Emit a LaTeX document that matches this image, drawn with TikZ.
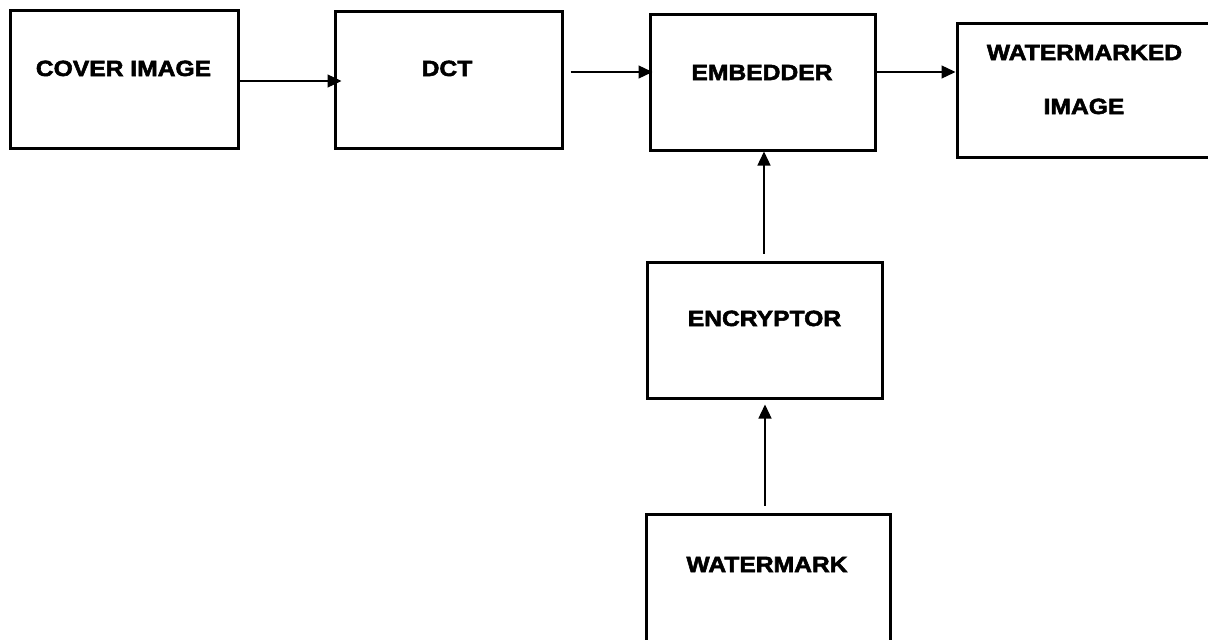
\documentclass[tikz,border=0pt]{standalone}
\usepackage{fontspec}
\newfontfamily\lblfont{Liberation Sans Bold}[FakeStretch=1.12,FakeBold=2.5]
\usetikzlibrary{arrows.meta,calc}
\tikzset{
  blk/.style={draw=black,line width=3pt,rectangle,inner sep=0pt},
  lbl/.style={anchor=base,inner sep=0pt,font=\lblfont\fontsize{22}{26}\selectfont},
  conn/.style={line width=1.3pt,-{Triangle[length=14pt,width=13pt]}}
}
\begin{document}
\begin{tikzpicture}[x=1pt,y=-1pt]
\useasboundingbox (0,0) rectangle (1208,640);
\clip (0,0) rectangle (1208,640);
% boxes
\node[blk,minimum width=228pt,minimum height=138pt] (cover) at (124,79) {};
\node[blk,minimum width=227pt,minimum height=137pt] (dct) at (448.5,79.5) {};
\node[blk,minimum width=225pt,minimum height=136pt] (emb) at (762.5,82) {};
\node[blk,minimum width=258pt,minimum height=134pt] (wmi) at (1086,90) {};
\node[blk,minimum width=235pt,minimum height=136pt] (enc) at (764.5,330) {};
\node[blk,minimum width=244pt,minimum height=136pt] (wmk) at (768,582) {};
% labels
\node[lbl] (tcover) at (123.5,76) {COVER IMAGE};
\node[lbl] (tdct) at (447,76) {DCT};
\node[lbl] (temb) at (762,80) {EMBEDDER};
\node[lbl] (twmi1) at (1084.5,60) {WATERMARKED};
\node[lbl] (twmi2) at (1084,114) {IMAGE};
\node[lbl] (tenc) at (764.5,326) {ENCRYPTOR};
\node[lbl] (twmk) at (767,572) {WATERMARK};
% connectors
\draw[conn] (cover.east |- 0,81) -- ($(dct.west |- 0,81)+(8,0)$);
\draw[conn] ($(dct.east |- 0,72)+(7,0)$) -- ($(emb.west |- 0,72)+(4,0)$);
\draw[conn] (emb.east |- 0,72) -- (wmi.west |- 0,72);
\draw[conn] ($(enc.north -| 764,0)+(0,-7)$) -- (emb.south -| 764,0);
\draw[conn] ($(wmk.north -| 765,0)+(0,-7)$) -- ($(enc.south -| 765,0)+(0,5)$);
\end{tikzpicture}
\end{document}
